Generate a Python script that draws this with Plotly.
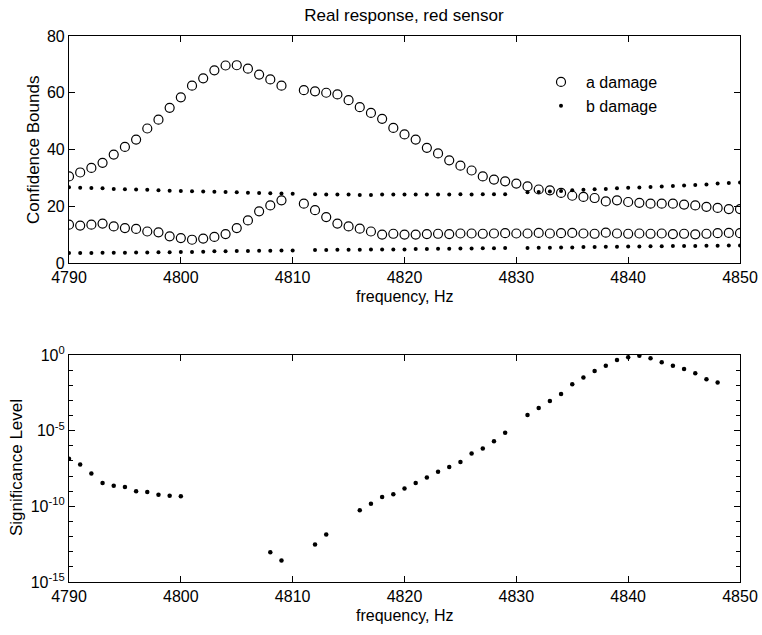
import plotly.graph_objects as go

freq = list(range(4790, 4851))

a_upper = [30.5, 31.9, 33.5, 35.3, 38.2, 40.9, 43.5, 47.4, 50.5, 54.7,
           58.4, 62.5, 65.1, 67.9, 69.6, 69.7, 68.5, 66.4, 64.7, 62.5,
           None, 60.9, 60.5, 60.0, 59.4, 57.4, 54.9, 52.9, 50.8, 47.6,
           45.3, 43.5, 40.6, 38.6, 36.2, 34.3, 32.6, 30.5, 29.4, 28.8,
           28.0, 27.0, 25.9, 25.6, 24.7, 23.7, 23.3, 22.9, 21.7, 22.1,
           21.5, 21.2, 20.9, 20.9, 20.9, 20.6, 20.3, 19.8, 19.4, 19.0,
           19.0]
a_lower = [13.5, 13.2, 13.5, 13.9, 12.9, 12.3, 12.0, 11.1, 10.8, 9.4,
           8.8, 8.2, 8.6, 9.2, 10.2, 12.3, 15.0, 18.2, 20.3, 22.1,
           None, 20.9, 18.6, 16.2, 13.9, 12.9, 12.1, 11.1, 10.0, 10.3,
           10.0, 10.0, 10.2, 10.3, 10.2, 10.4, 10.4, 10.3, 10.4, 10.5,
           10.4, 10.4, 10.6, 10.4, 10.5, 10.6, 10.4, 10.3, 10.7, 10.4,
           10.3, 10.4, 10.3, 10.4, 10.2, 10.3, 10.1, 10.3, 10.5, 10.6,
           10.5]
b_upper = [26.7, 26.5, 26.4, 26.3, 26.1, 26.0, 25.9, 25.8, 25.6, 25.5,
           25.4, 25.3, 25.2, 25.1, 25.0, 24.9, 24.8, 24.7, 24.6, 24.5,
           24.4, None, 24.2, 24.1, 24.1, 24.1, 24.0, 24.0, 24.1, 24.1,
           24.1, 24.1, 24.1, 24.1, 24.1, 24.2, 24.1, 24.2, 24.2, 24.2,
           None, 24.9, 25.0, 25.2, 25.4, 25.6, 25.8, 26.0, 26.1, 26.3,
           26.5, 26.6, 26.8, 27.0, 27.1, 27.3, 27.5, 27.7, 28.0, 28.2,
           28.4]
b_lower = [3.5, 3.5, 3.5, 3.6, 3.6, 3.6, 3.7, 3.7, 3.8, 3.8,
           3.9, 3.9, 4.0, 4.1, 4.1, 4.2, 4.2, 4.3, 4.3, 4.4,
           4.4, None, 4.6, 4.6, 4.7, 4.7, 4.7, 4.8, 4.8, 4.8,
           4.8, 4.9, 4.9, 5.0, 5.0, 5.1, 5.1, 5.2, 5.2, 5.3,
           None, 5.3, 5.4, 5.4, 5.5, 5.5, 5.6, 5.6, 5.7, 5.7,
           5.8, 5.8, 5.9, 5.9, 6.0, 6.0, 6.0, 6.1, 6.1, 6.2,
           6.2]
significance = [1.4e-7, 5.8e-8, 1.5e-8, 3.5e-9, 2.3e-9, 1.9e-9, 1.0e-9, 8.9e-10, 5.9e-10, 5.1e-10,
                4.6e-10, None, None, None, None, None, None, None, 9.3e-14, 2.6e-14,
                None, None, 3.0e-13, 1.4e-12, None, None, 5.5e-11, 1.5e-10, 4.2e-10, 6.2e-10,
                1.5e-9, 3.5e-9, 7.9e-9, 1.9e-8, 4.0e-8, 8.5e-8, 3.1e-7, 6.6e-7, 2.0e-6, 7.2e-6,
                None, 1.07e-4, 3.1e-4, 9.3e-4, 2.6e-3, 1.15e-2, 3.2e-2, 8.7e-2, 0.195, 0.47,
                0.71, 0.89, 0.60, 0.33, 0.195, 0.117, 0.062, 0.025, 0.0155, None,
                None]

x_ticks = [4790, 4800, 4810, 4820, 4830, 4840, 4850]
y1_ticks = [0, 20, 40, 60, 80]
y2_tickvals = [1e-15, 1e-10, 1e-5, 1]
y2_ticktext = ["10<sup>-15</sup>", "10<sup>-10</sup>", "10<sup>-5</sup>", "10<sup>0</sup>"]
y2_minor = [10.0 ** -k for k in range(1, 15) if k % 5 != 0]

FONT = "Liberation Sans, Arial, sans-serif"
W, H = 762, 635

circle = dict(symbol="circle-open", size=9, color="black", line=dict(width=1.2, color="black"))
dot = dict(symbol="circle", size=4, color="black")

fig = go.Figure()
fig.add_trace(go.Scatter(x=freq, y=a_upper, mode="markers", marker=circle,
                         name="a damage", legendgroup="a", xaxis="x", yaxis="y"))
fig.add_trace(go.Scatter(x=freq, y=a_lower, mode="markers", marker=circle,
                         name="a damage", legendgroup="a", showlegend=False, xaxis="x", yaxis="y"))
fig.add_trace(go.Scatter(x=freq, y=b_upper, mode="markers", marker=dot,
                         name="b damage", legendgroup="b", xaxis="x", yaxis="y"))
fig.add_trace(go.Scatter(x=freq, y=b_lower, mode="markers", marker=dot,
                         name="b damage", legendgroup="b", showlegend=False, xaxis="x", yaxis="y"))
fig.add_trace(go.Scatter(x=freq, y=significance, mode="markers", marker=dict(symbol="circle", size=4.5, color="black"),
                         name="significance", showlegend=False, xaxis="x2", yaxis="y2"))

axis_common = dict(showline=True, linecolor="black", linewidth=1.2, mirror="ticks",
                   ticks="inside", ticklen=6, tickcolor="black", tickwidth=1,
                   showgrid=False, zeroline=False, automargin=False,
                   tickfont=dict(family=FONT, size=16, color="black"))

xd = [69 / W, 740 / W]
title_font = dict(family=FONT, size=17, color="black")
xtitle_font = dict(family=FONT, size=16, color="black")

annotations = [
    dict(text="frequency, Hz", x=404.5 / W, y=1 - 297 / H, xref="paper", yref="paper",
         xanchor="center", yanchor="middle", showarrow=False, font=xtitle_font),
    dict(text="frequency, Hz", x=404.5 / W, y=1 - 615 / H, xref="paper", yref="paper",
         xanchor="center", yanchor="middle", showarrow=False, font=xtitle_font),
    dict(text="Confidence Bounds", x=33 / W, y=1 - 150 / H, xref="paper", yref="paper",
         xanchor="center", yanchor="middle", textangle=-90, showarrow=False, font=title_font),
    dict(text="Significance Level", x=16 / W, y=1 - 468 / H, xref="paper", yref="paper",
         xanchor="center", yanchor="middle", textangle=-90, showarrow=False, font=title_font),
]

fig.update_layout(
    width=W, height=H,
    margin=dict(l=0, r=0, t=0, b=0),
    paper_bgcolor="white", plot_bgcolor="white",
    font=dict(family=FONT, size=16, color="black"),
    title=dict(text="Real response, red sensor", x=404 / W, xanchor="center",
               y=1 - 15 / H, yanchor="middle", font=title_font),
    xaxis=dict(domain=xd, anchor="y", range=[4790, 4850], tickvals=x_ticks, **axis_common),
    yaxis=dict(domain=[372 / H, 599 / H], anchor="x", range=[0, 80], tickvals=y1_ticks, **axis_common),
    xaxis2=dict(domain=xd, anchor="y2", range=[4790, 4850], tickvals=x_ticks, **axis_common),
    yaxis2=dict(domain=[53 / H, 280 / H], anchor="x2", type="log", range=[-15, 0],
                tickvals=y2_tickvals, ticktext=y2_ticktext,
                minor=dict(tickvals=y2_minor, ticks="inside", ticklen=4, tickcolor="black", showgrid=False),
                **axis_common),
    annotations=annotations,
    legend=dict(x=536 / W, y=1 - 65 / H, xanchor="left", yanchor="top",
                bgcolor="rgba(0,0,0,0)", borderwidth=0,
                font=dict(family=FONT, size=16, color="black"), itemwidth=40,
                tracegroupgap=0),
    showlegend=True,
)

fig.write_html("out.html")
